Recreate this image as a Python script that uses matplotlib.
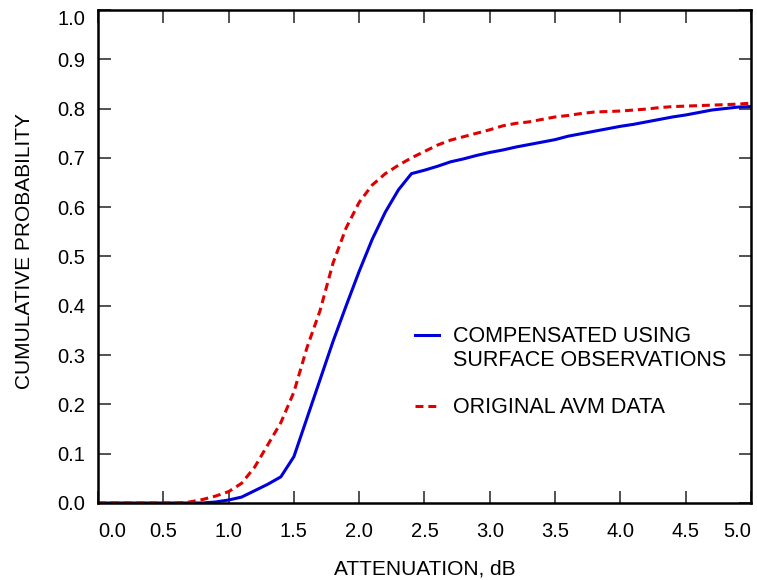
import numpy as np
import matplotlib
matplotlib.use("Agg")
import matplotlib.pyplot as plt

plt.rcParams['font.family'] = ['Liberation Sans', 'DejaVu Sans']

# attenuation steps, dB
atten = np.round(np.arange(0, 5.01, 0.1), 1)

# compensated using surface observations
comp = [0.0, 0.0, 0.0, 0.0, 0.0, 0.0, 0.0, 0.0, 0.0, 0.002,
        0.006, 0.012, 0.025, 0.038, 0.053, 0.094, 0.172, 0.25, 0.328, 0.40,
        0.47, 0.535, 0.59, 0.635, 0.668, 0.675, 0.683, 0.692, 0.698, 0.705,
        0.711, 0.716, 0.722, 0.727, 0.732, 0.737, 0.744, 0.749, 0.754, 0.759,
        0.764, 0.768, 0.773, 0.778, 0.783, 0.787, 0.792, 0.797, 0.800, 0.803,
        0.804]

# original AVM data
orig = [0.0, 0.0, 0.0, 0.0, 0.0, 0.0, 0.0, 0.002, 0.007, 0.014,
        0.023, 0.040, 0.073, 0.118, 0.163, 0.225, 0.315, 0.39, 0.487, 0.558,
        0.61, 0.645, 0.668, 0.685, 0.700, 0.713, 0.726, 0.736, 0.743, 0.750,
        0.757, 0.765, 0.770, 0.773, 0.778, 0.783, 0.786, 0.790, 0.793, 0.794,
        0.795, 0.797, 0.799, 0.802, 0.804, 0.805, 0.806, 0.807, 0.808, 0.809,
        0.811]

xticks = np.round(np.arange(0, 5.01, 0.5), 1)
yticks = np.round(np.arange(0, 1.01, 0.1), 1)

fig = plt.figure(figsize=(7.57, 5.8), dpi=100)
ax = fig.add_axes([0.1295, 0.1328, 0.8625, 0.85])

ax.plot(atten, comp, color='#0000dd', lw=2.2, label='COMPENSATED USING')
ax.plot([], [], color='none', label='SURFACE OBSERVATIONS')
ax.plot([], [], color='none', label=' ')
ax.plot(atten, orig, color='#e00000', lw=2.2, dashes=(2.6, 1.6),
        label='ORIGINAL AVM DATA')

ax.set_xlim(0, 5)
ax.set_ylim(0, 1)
ax.set_xticks(xticks)
ax.set_yticks(yticks)
ax.set_xticklabels(['%.1f' % v for v in xticks])
ax.set_yticklabels(['%.1f' % v for v in yticks])
ax.tick_params(direction='in', length=9, width=1.2, top=True, right=True,
               labelsize=14.5, color='#333333')
ax.tick_params(axis='x', pad=14)
ax.tick_params(axis='y', pad=9)
xl = ax.get_xticklabels()
xl[0].set_ha('left')
xl[-1].set_ha('right')
ax.get_yticklabels()[-1].set_va('top')

for s in ax.spines.values():
    s.set_linewidth(1.8)

ax.set_xlabel('ATTENUATION, dB', fontsize=15, labelpad=13)
ax.set_ylabel('CUMULATIVE PROBABILITY', fontsize=15, labelpad=17)
ax.yaxis.label.set_y(0.511)

ax.legend(loc='upper left', bbox_to_anchor=(0.485, 0.358), frameon=False,
          fontsize=15.5, handlelength=1.12, handletextpad=0.65,
          labelspacing=0.12, borderpad=0, borderaxespad=0)

fig.savefig('out.png', dpi=100)
